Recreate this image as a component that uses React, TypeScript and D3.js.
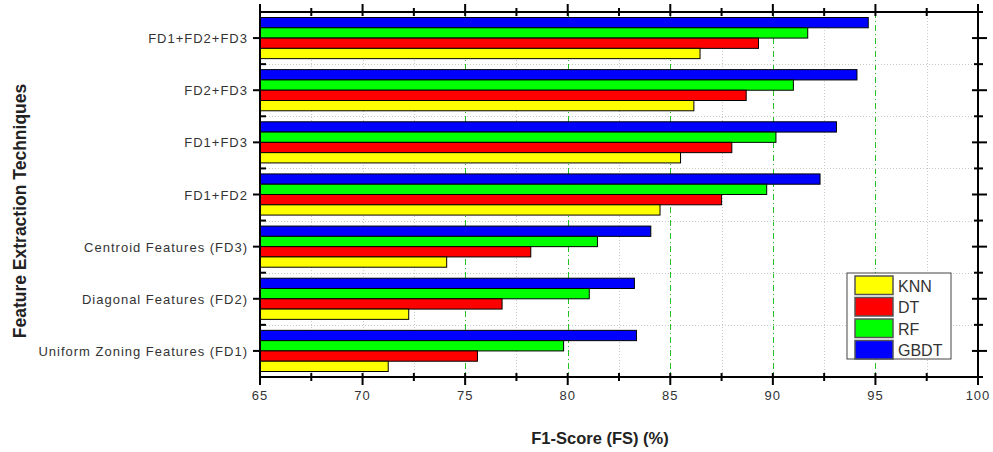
import { useEffect, useRef } from "react";
import * as d3 from "d3";

// categories top -> bottom
const categories = [
  "FD1+FD2+FD3",
  "FD2+FD3",
  "FD1+FD3",
  "FD1+FD2",
  "Centroid Features (FD3)",
  "Diagonal Features (FD2)",
  "Uniform Zoning Features (FD1)",
];

const knn = [86.45, 86.15, 85.5, 84.5, 74.1, 72.25, 71.25];
const dt = [89.3, 88.7, 88.0, 87.5, 78.2, 76.8, 75.6];
const rf = [91.7, 91.0, 90.15, 89.7, 81.45, 81.05, 79.8];
const gbdt = [94.65, 94.1, 93.1, 92.3, 84.05, 83.25, 83.35];

const xTicks = [65, 70, 75, 80, 85, 90, 95, 100];
const xMinorTicks = [67.5, 72.5, 77.5, 82.5, 87.5, 92.5, 97.5];
const greenGrid = [75, 80, 85, 90, 95];

const SERIES = [
  { id: "GBDT", values: gbdt, color: "#0000ff" },
  { id: "RF", values: rf, color: "#00ff00" },
  { id: "DT", values: dt, color: "#ff0000" },
  { id: "KNN", values: knn, color: "#ffff00" },
];
const LEGEND_ORDER = ["KNN", "DT", "RF", "GBDT"];

const W = 993;
const H = 452;
const plot = { left: 260, right: 978, top: 12, bottom: 377 };

const crisp = (v: number) => Math.round(v) + 0.5;

export default function App() {
  const svgRef = useRef<SVGSVGElement>(null);

  useEffect(() => {
    if (!svgRef.current) return;
    const svg = d3.select(svgRef.current);
    svg.selectAll("*").remove();

    const x = d3.scaleLinear().domain([65, 100]).range([plot.left, plot.right]);
    const y = d3.scaleBand<string>().domain(categories).range([plot.top, plot.bottom]).padding(0);
    const band = y.bandwidth();
    const inner = d3.scaleBand<string>()
      .domain(SERIES.map((s) => s.id))
      .range([5.5, band - 5.5])
      .padding(0);

    svg.append("rect").attr("width", W).attr("height", H).attr("fill", "#fff");

    // ============ GRID ============
    const grid = svg.append("g");
    [...xTicks.slice(1, -1), ...xMinorTicks].forEach((v) => {
      const isGreen = greenGrid.includes(v);
      const gx = crisp(x(v));
      grid.append("line")
        .attr("x1", gx).attr("x2", gx)
        .attr("y1", plot.top).attr("y2", plot.bottom)
        .attr("stroke", isGreen ? "#22c322" : "#c8c8c8")
        .attr("stroke-width", 1)
        .attr("stroke-dasharray", isGreen ? "6,3,1,3" : "1,2");
    });
    categories.slice(1).forEach((c) => {
      const yy = crisp(y(c) ?? 0);
      grid.append("line")
        .attr("x1", plot.left).attr("x2", plot.right)
        .attr("y1", yy).attr("y2", yy)
        .attr("stroke", "#c8c8c8")
        .attr("stroke-dasharray", "1,2");
    });

    // ============ BARS ============
    const bars = svg.append("g");
    SERIES.forEach((s) => {
      s.values.forEach((v, i) => {
        const cy = (y(categories[i]) ?? 0) + (inner(s.id) ?? 0);
        bars.append("rect")
          .attr("x", x(65))
          .attr("y", cy)
          .attr("width", x(v) - x(65))
          .attr("height", inner.bandwidth())
          .attr("fill", s.color)
          .attr("stroke", "#000")
          .attr("stroke-width", 1);
      });
    });

    // ============ AXES ============
    const axes = svg.append("g").attr("stroke", "#000").attr("stroke-width", 2);
    axes.append("rect")
      .attr("x", plot.left).attr("y", plot.top)
      .attr("width", plot.right - plot.left).attr("height", plot.bottom - plot.top)
      .attr("fill", "none");

    // x ticks (top & bottom)
    xTicks.forEach((v) => {
      axes.append("line").attr("x1", x(v)).attr("x2", x(v))
        .attr("y1", plot.bottom - 4).attr("y2", plot.bottom + 8);
      axes.append("line").attr("x1", x(v)).attr("x2", x(v))
        .attr("y1", plot.top - 8).attr("y2", plot.top + 4);
    });
    xMinorTicks.forEach((v) => {
      axes.append("line").attr("x1", x(v)).attr("x2", x(v))
        .attr("y1", plot.bottom - 4).attr("y2", plot.bottom + 4);
      axes.append("line").attr("x1", x(v)).attr("x2", x(v))
        .attr("y1", plot.top - 4).attr("y2", plot.top + 4);
    });

    // y ticks (left & right)
    categories.forEach((c) => {
      const cy = (y(c) ?? 0) + band / 2;
      axes.append("line").attr("x1", plot.left - 7).attr("x2", plot.left).attr("y1", cy).attr("y2", cy);
      axes.append("line").attr("x1", plot.right - 6).attr("x2", plot.right + 9).attr("y1", cy).attr("y2", cy);
    });
    [...categories.map((c) => y(c) ?? 0), plot.bottom].forEach((yy) => {
      axes.append("line").attr("x1", plot.left - 1).attr("x2", plot.left + 6).attr("y1", yy).attr("y2", yy);
      axes.append("line").attr("x1", plot.right - 4).attr("x2", plot.right + 5).attr("y1", yy).attr("y2", yy);
    });

    // x tick labels
    svg.append("g")
      .selectAll("text")
      .data(xTicks)
      .join("text")
      .attr("x", (d) => x(d))
      .attr("y", plot.bottom + 23)
      .attr("text-anchor", "middle")
      .attr("font-family", "'Liberation Sans Narrow', 'Arial Narrow', Arial, sans-serif")
      .attr("font-size", 13)
      .attr("fill", "#333")
      .attr("letter-spacing", 1)
      .text((d) => d);

    // y tick labels
    svg.append("g")
      .selectAll("text")
      .data(categories)
      .join("text")
      .attr("x", plot.left - 12)
      .attr("y", (d) => (y(d) ?? 0) + band / 2 + 5)
      .attr("text-anchor", "end")
      .attr("font-family", "Arial, 'Liberation Sans', sans-serif")
      .attr("font-size", 13)
      .attr("letter-spacing", 1)
      .attr("fill", "#333")
      .text((d) => d);

    // axis titles
    svg.append("text")
      .attr("x", 600)
      .attr("y", 444)
      .attr("text-anchor", "middle")
      .attr("font-family", "Arial, 'Liberation Sans', sans-serif")
      .attr("font-weight", 700)
      .attr("font-size", 16.5)
      .attr("fill", "#222")
      .text("F1-Score (FS) (%)");

    svg.append("text")
      .attr("transform", "translate(26, 211) rotate(-90)")
      .attr("text-anchor", "middle")
      .attr("font-family", "Arial, 'Liberation Sans', sans-serif")
      .attr("font-weight", 700)
      .attr("font-size", 17.5)
      .attr("fill", "#222")
      .text("Feature Extraction Techniques");

    // ============ LEGEND ============
    const legend = svg.append("g").attr("transform", "translate(847, 273)");
    legend.append("rect")
      .attr("width", 104).attr("height", 86)
      .attr("fill", "#fff").attr("stroke", "#444").attr("stroke-width", 1);
    LEGEND_ORDER.forEach((id, i) => {
      const s = SERIES.find((d) => d.id === id)!;
      legend.append("rect")
        .attr("x", 8).attr("y", 3 + i * 21.5)
        .attr("width", 38).attr("height", 18.5)
        .attr("fill", s.color)
        .attr("stroke", "#555").attr("stroke-width", 1.5);
      legend.append("text")
        .attr("x", 51).attr("y", 3 + i * 21.5 + 15.5)
        .attr("font-family", "Arial, 'Liberation Sans', sans-serif")
        .attr("font-size", 16)
        .attr("fill", "#333")
        .text(id);
    });
  }, []);

  return (
    <svg
      ref={svgRef}
      width={W}
      height={H}
      style={{ position: "absolute", left: 0, top: 0 }}
    />
  );
}
